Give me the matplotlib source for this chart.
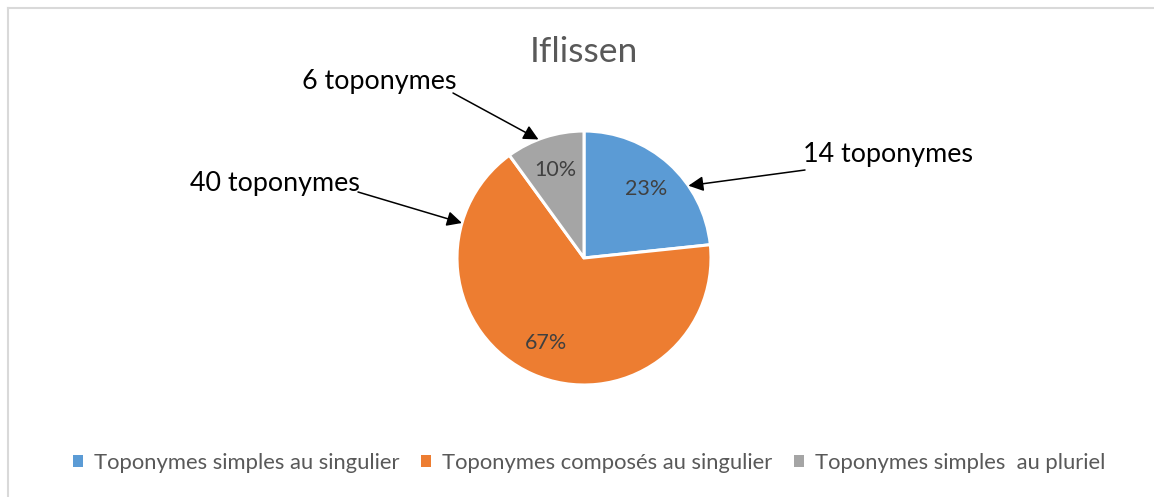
import numpy as np
import matplotlib.pyplot as plt
from matplotlib.patches import Patch
from matplotlib.lines import Line2D

plt.rcParams['font.family'] = ['Lato', 'DejaVu Sans']

# données
categories = ['Toponymes simples au singulier', 'Toponymes composés au singulier',
              'Toponymes simples  au pluriel']
counts = [14, 40, 6]
pcts = ['23%', '67%', '10%']
colors = ['#5B9BD5', '#ED7D31', '#A5A5A5']
callouts = ['14 toponymes', '40 toponymes', '6 toponymes']

W, H = 1154, 497
fig = plt.figure(figsize=(W / 100, H / 100), dpi=100)

# cadre gris (haut et gauche)
fig.add_artist(Line2D([8 / W, 8 / W], [0, 1 - 8 / H], color='#D9D9D9', lw=1.5))
fig.add_artist(Line2D([8 / W, 1], [1 - 8 / H, 1 - 8 / H], color='#D9D9D9', lw=1.5))

cx, cy, r = 584, 258, 127
ax = fig.add_axes([(cx - r) / W, (H - cy - r) / H, 2 * r / W, 2 * r / H])

wedges, _ = ax.pie(counts, colors=colors, startangle=90, counterclock=False, radius=1,
                   wedgeprops=dict(edgecolor='white', linewidth=2.2))
ax.set_xlim(-1, 1)
ax.set_ylim(-1, 1)
ax.set_aspect('equal')
ax.axis('off')

# pourcentages
total = sum(counts)
start = 90
for i, c in enumerate(counts):
    ang = start - 360 * c / total / 2
    start -= 360 * c / total
    d = 0.73
    ax.text(d * np.cos(np.radians(ang)), d * np.sin(np.radians(ang)), pcts[i],
            ha='center', va='center', fontsize=15.5, color='#404040')

# étiquettes avec flèches
tip_angles = [34.7, 164, 111]
text_pos = [(803, 155), (190, 183), (302, 82)]
line_start = [(805, 170), (358, 192), (453, 93)]
for i in range(3):
    a = np.radians(tip_angles[i])
    fig.text(text_pos[i][0] / W, 1 - text_pos[i][1] / H, callouts[i],
             ha='left', va='center', fontsize=19.4, color='black')
    ax.annotate('', xy=(np.cos(a), np.sin(a)), xycoords='data',
                xytext=(line_start[i][0] / W, 1 - line_start[i][1] / H),
                textcoords='figure fraction',
                arrowprops=dict(arrowstyle='-|>,head_length=0.9,head_width=0.45',
                                color='black', lw=1.1, shrinkA=0, shrinkB=0))

fig.text(cx / W, 1 - 52 / H, 'Iflissen', ha='center', va='center',
         fontsize=25.5, color='#595959')

handles = [Patch(facecolor=c, edgecolor='none') for c in colors]
fig.legend(handles, categories, loc='center', bbox_to_anchor=(589 / W, 1 - 463 / H),
           ncol=3, frameon=False, fontsize=15.8, labelcolor='#595959',
           handlelength=0.45, handleheight=0.45, handletextpad=0.5, columnspacing=1.0)

fig.savefig('out.png', dpi=100)
